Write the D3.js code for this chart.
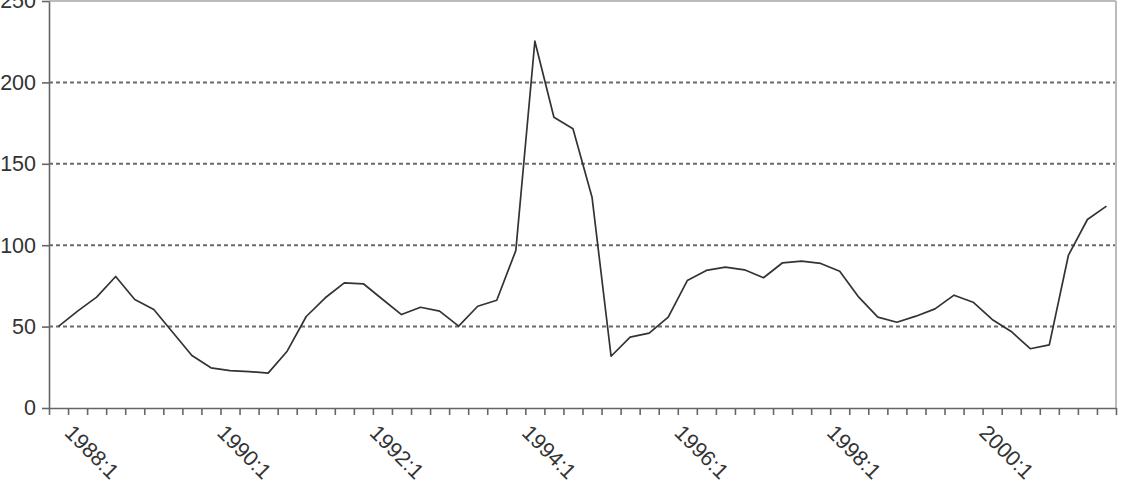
<!DOCTYPE html>
<html lang="en">
<head>
    <meta charset="UTF-8">
    <title>Quarterly series 1988-2001</title>
    <script src="https://d3js.org/d3.v7.min.js"></script>
    <style>
        body { margin: 0; background: #fff; }
        svg text { font-family: "Liberation Sans", Arial, Helvetica, sans-serif; fill: #333; }
        .axis path, .axis line { stroke: #666; stroke-width: 1.6px; }
        .grid line { stroke: #6a6a6a; stroke-width: 2px; stroke-dasharray: 4 3; }
    </style>
</head>
<body>
    <svg id="chart" width="1122" height="493"></svg>

    <script>
        // quarters 1988:1 .. 2001:4
        const years = d3.range(1988, 2002);
        const quarters = years.flatMap(y => [1, 2, 3, 4].map(q => y + ":" + q));

        // values
        const values = [
            50.1, 59.5, 68.1, 80.8, 66.6, 60.5, 46.4, 32.2,
            24.7, 23.0, 22.4, 21.4, 34.9, 56.2, 67.7, 76.9,
            76.3, 66.8, 57.4, 61.9, 59.5, 50.3, 62.5, 66.2,
            96.7, 225.3, 178.6, 171.5, 129.5, 31.8, 43.5, 46.0,
            55.8, 78.3, 84.5, 86.5, 84.9, 80.0, 89.2, 90.2,
            88.8, 84.0, 68.1, 55.8, 52.7, 56.4, 60.9, 69.3,
            65.0, 54.4, 47.0, 36.4, 38.8, 93.7, 115.8, 124.0
        ];

        const yTicks = [0, 50, 100, 150, 200, 250];
        const gridValues = [50, 100, 150, 200];
        const xLabels = ["1988:1", "1990:1", "1992:1", "1994:1", "1996:1", "1998:1", "2000:1"];

        const mLeft = 49, mRight = 1116, mTop = 1, mBottom = 408;

        const svg = d3.select("#chart");

        const x = d3.scaleBand()
            .domain(quarters)
            .range([mLeft, mRight])
            .padding(0);

        // index scale used for the tick marks at category boundaries
        const xIdx = d3.scaleLinear()
            .domain([0, quarters.length])
            .range([mLeft, mRight]);

        const y = d3.scaleLinear()
            .domain([0, 250])
            .range([mBottom, mTop]);

        // dashed gridlines
        svg.append("g")
            .attr("class", "grid")
            .selectAll("line")
            .data(gridValues)
            .enter()
            .append("line")
            .attr("x1", mLeft)
            .attr("x2", mRight)
            .attr("y1", d => y(d))
            .attr("y2", d => y(d));

        // light frame on top and right
        svg.append("line")
            .attr("x1", mLeft).attr("x2", mRight)
            .attr("y1", y(250)).attr("y2", y(250))
            .attr("stroke", "#bbb").attr("stroke-width", 2);
        svg.append("line")
            .attr("x1", mRight).attr("x2", mRight)
            .attr("y1", y(250)).attr("y2", mBottom)
            .attr("stroke", "#bbb").attr("stroke-width", 2);

        // y axis
        svg.append("g")
            .attr("class", "axis")
            .attr("transform", `translate(${mLeft},0)`)
            .call(d3.axisLeft(y).tickValues(yTicks).tickSize(7).tickPadding(6).tickSizeOuter(0))
            .selectAll("text")
            .attr("font-size", 21.5)
            .attr("fill", "#333");

        // x axis ticks
        svg.append("g")
            .attr("class", "axis")
            .attr("transform", `translate(0,${mBottom})`)
            .call(d3.axisBottom(xIdx).tickValues(d3.range(quarters.length + 1)).tickSize(7).tickSizeOuter(0).tickFormat(""));

        // rotated labels
        svg.append("g")
            .selectAll("text")
            .data(xLabels)
            .enter()
            .append("text")
            .attr("transform", d => `translate(${x(d) + x.bandwidth() / 2 + 5},434) rotate(45)`)
            .attr("font-size", 21.5)
            .attr("text-anchor", "start")
            .text(d => d);

        // the series
        const line = d3.line()
            .x((d, i) => x(quarters[i]) + x.bandwidth() / 2)
            .y(d => y(d));

        svg.append("path")
            .datum(values)
            .attr("fill", "none")
            .attr("stroke", "#333")
            .attr("stroke-width", 1.7)
            .attr("stroke-linejoin", "round")
            .attr("d", line);
    </script>
</body>
</html>
